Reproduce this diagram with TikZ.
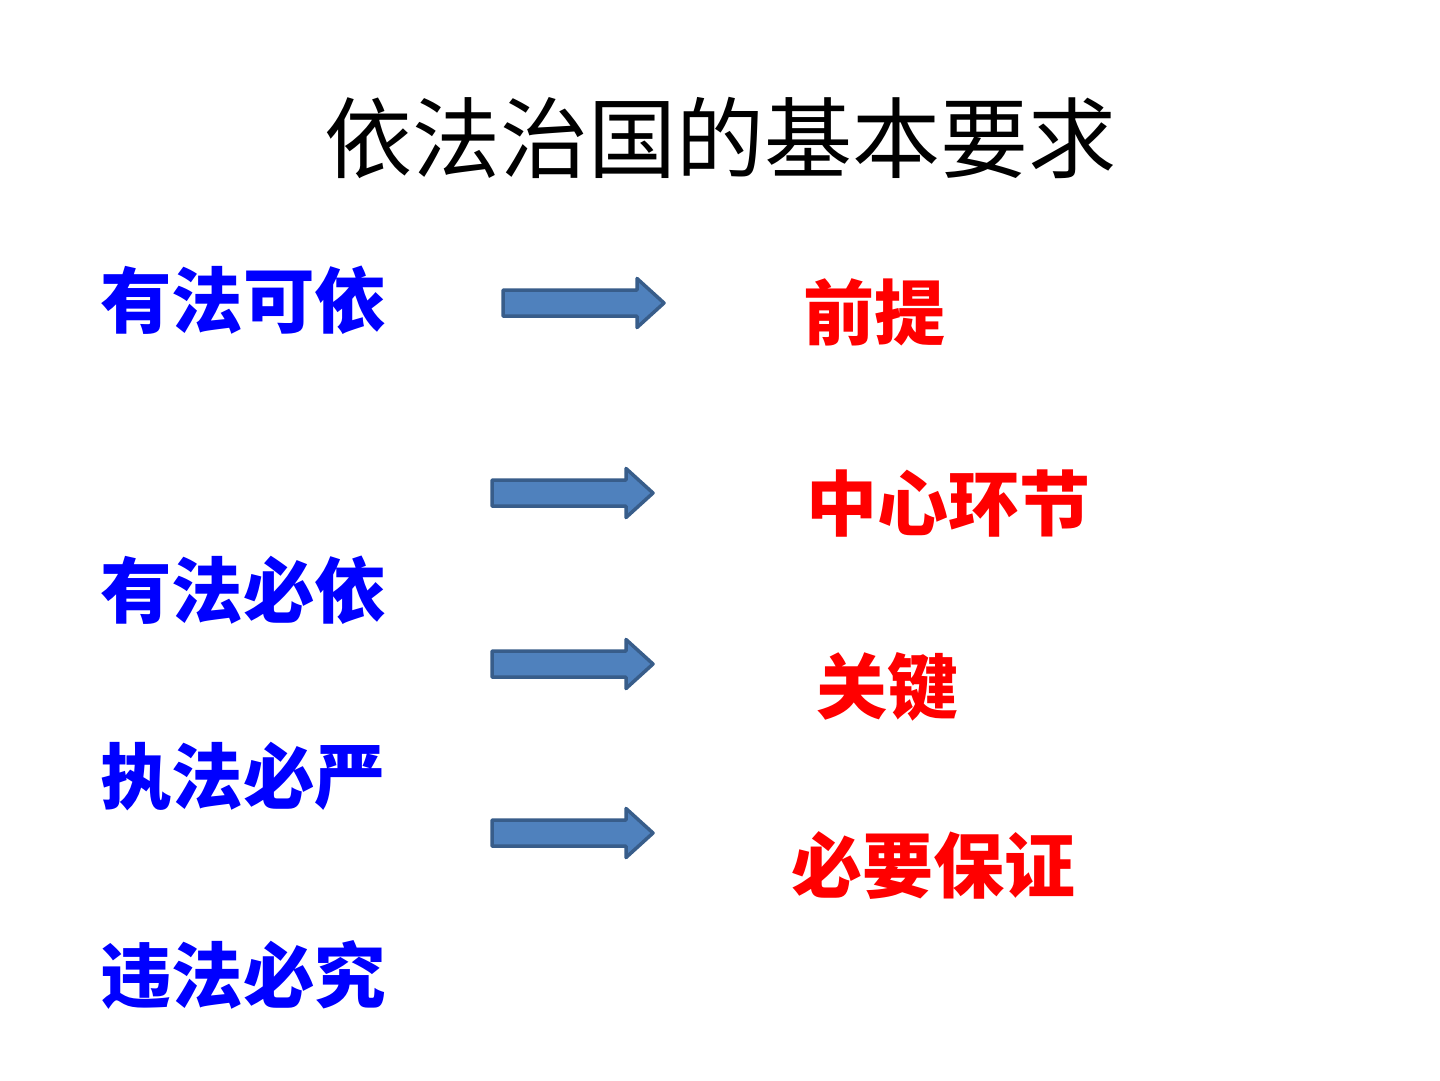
\documentclass[tikz,border=0pt]{standalone}
\usepackage{fontspec}
\newfontfamily\cjk{Noto Sans CJK SC}
\definecolor{arrowfill}{HTML}{4F81BD}
\definecolor{arrowline}{HTML}{385D8A}
\definecolor{lblue}{HTML}{0000FF}
\definecolor{rred}{HTML}{FF0000}
\tikzset{
  title/.style={font=\cjk\fontsize{88}{88}\selectfont, inner sep=0pt, text=black},
  lefttxt/.style={font=\cjk\bfseries\fontsize{71.5}{71.5}\selectfont, inner sep=0pt, text=lblue, anchor=west},
  righttxt/.style={font=\cjk\bfseries\fontsize{71}{71}\selectfont, inner sep=0pt, text=rred, anchor=west},
  blockarrow/.style={fill=arrowfill, draw=arrowline, line width=3.5pt, line join=round}
}
\newcommand{\bigarrow}[3]{% name, x left, y center
  \coordinate (#1) at (#2,#3);
  \path[blockarrow] (#1) ++(0,-13) -- ++(134,0) -- ++(0,-11.5) -- ++(27,24.5) -- ++(-27,24.5) -- ++(0,-11.5) -- ++(-134,0) -- cycle;
}
\begin{document}
\begin{tikzpicture}[x=1pt,y=-1pt]
\useasboundingbox[fill=white] (0,0) rectangle (1440,1080);
\node[title] (t) at (720,138) {依法治国的基本要求};
\node[lefttxt] (l1) at (100,300) {有法可依};
\node[lefttxt] (l2) at (100,590) {有法必依};
\node[lefttxt] (l3) at (100,777) {执法必严};
\node[lefttxt] (l4) at (100,975) {违法必究};
\node[righttxt] (r1) at (803,312) {前提};
\node[righttxt] (r2) at (806,504) {中心环节};
\node[righttxt] (r3) at (816,687) {关键};
\node[righttxt] (r4) at (791,866) {必要保证};
\bigarrow{a1}{503}{303}
\bigarrow{a2}{492}{493}
\bigarrow{a3}{492}{664}
\bigarrow{a4}{492}{833}
\end{tikzpicture}
\end{document}
